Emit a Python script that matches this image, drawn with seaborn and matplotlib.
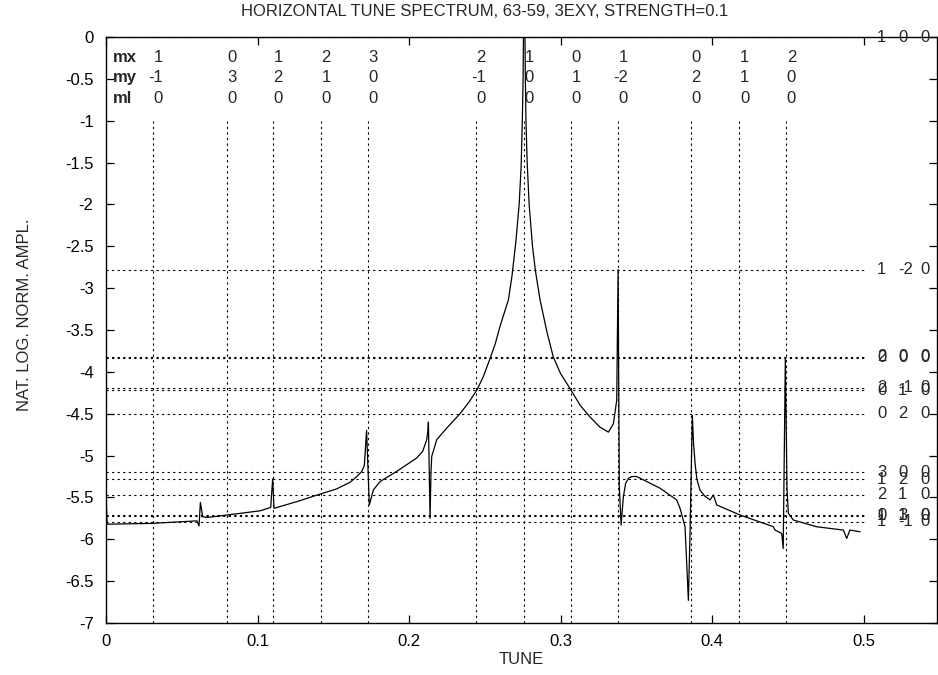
import matplotlib
matplotlib.use("Agg")
import matplotlib.pyplot as plt
import seaborn as sns
import pandas as pd
from matplotlib.ticker import MultipleLocator, FuncFormatter

# spectrum curve
tune = [0.0, 0.0007, 0.030, 0.060, 0.0614, 0.0623, 0.0638, 0.0664, 0.080, 0.1016,
        0.1087, 0.110, 0.1109, 0.126, 0.1413, 0.152, 0.161, 0.165, 0.1688, 0.1705,
        0.172, 0.1738, 0.1765, 0.1809, 0.1918, 0.205, 0.209, 0.2117, 0.2125, 0.2128,
        0.2139, 0.2145, 0.215, 0.2183, 0.225, 0.2337, 0.240, 0.2447, 0.249, 0.2535,
        0.257, 0.260, 0.2656, 0.268, 0.2705, 0.2727, 0.274, 0.2748, 0.2753, 0.2756,
        0.2765, 0.2768, 0.2772, 0.278, 0.2793, 0.2815, 0.2835, 0.2865, 0.291, 0.2952,
        0.300, 0.3063, 0.313, 0.3195, 0.326, 0.3316, 0.3349, 0.3371, 0.3380, 0.3388,
        0.340, 0.3415, 0.343, 0.345, 0.347, 0.350, 0.3525, 0.3657, 0.3767, 0.3789,
        0.3822, 0.3844, 0.3855, 0.387, 0.3878, 0.3888, 0.390, 0.392, 0.395, 0.3987,
        0.4009, 0.4031, 0.4185, 0.4405, 0.4416, 0.446, 0.447, 0.4484, 0.4495, 0.4504,
        0.4537, 0.469, 0.4867, 0.4889, 0.491, 0.4977]
ampl = [-5.45, -5.82, -5.81, -5.78, -5.84, -5.56, -5.73, -5.74, -5.71, -5.66,
        -5.62, -5.28, -5.63, -5.55, -5.46, -5.40, -5.32, -5.26, -5.19, -5.12,
        -4.70, -5.59, -5.41, -5.31, -5.19, -5.03, -4.95, -4.81, -4.70, -4.60,
        -5.75, -5.20, -5.01, -4.81, -4.67, -4.50, -4.35, -4.22, -4.06, -3.84,
        -3.66, -3.46, -3.14, -2.85, -2.45, -2.00, -1.55, -1.00, -0.50, 0.10,
        0.10, -0.50, -1.00, -1.50, -2.00, -2.50, -2.80, -3.14, -3.52, -3.82,
        -4.02, -4.20, -4.40, -4.54, -4.66, -4.72, -4.62, -4.34, -2.78, -5.37,
        -5.83, -5.49, -5.33, -5.27, -5.25, -5.25, -5.27, -5.39, -5.53, -5.63,
        -5.85, -6.73, -5.93, -4.52, -4.85, -5.09, -5.28, -5.41, -5.48, -5.53,
        -5.47, -5.59, -5.71, -5.85, -5.89, -5.93, -6.11, -3.83, -5.40, -5.69,
        -5.77, -5.85, -5.89, -5.99, -5.89, -5.91]

# resonance lines (vertical) with their indices
res_tune = [0.031, 0.080, 0.110, 0.142, 0.173, 0.244, 0.276, 0.307, 0.338, 0.386, 0.418, 0.449]
res_mx = [1, 0, 1, 2, 3, 2, 1, 0, 1, 0, 1, 2]
res_my = [-1, 3, 2, 1, 0, -1, 0, 1, -2, 2, 1, 0]
res_ml = [0, 0, 0, 0, 0, 0, 0, 0, 0, 0, 0, 0]

# amplitude levels (horizontal) with their labels
lvl_value = [0.0, -2.78, -3.82, -3.83, -4.19, -4.22, -4.50, -5.20, -5.28, -5.47, -5.71, -5.72, -5.79]
lvl_mx = ["1", "1", "2", "0", "2", "0", "0", "3", "1", "2", "0", "1", "1"]
lvl_my = ["0", "-2", "0", "0", "-1", "1", "2", "0", "2", "1", "3", "1", "-1"]
lvl_ml = ["0", "0", "0", "0", "0", "0", "0", "0", "0", "0", "0", "0", "0"]

sns.set_style("ticks")
plt.rcParams["font.family"] = ["Liberation Sans", "DejaVu Sans"]
plt.rcParams["axes.unicode_minus"] = False
FS = 12

fig = plt.figure(figsize=(9.38, 6.75), dpi=100)
ax = fig.add_axes([106 / 938, 52 / 675, 831 / 938, 586 / 675])

dots = (0, (2, 3))
for x in res_tune:
    ax.plot([x, x], [-7, -1], color="black", lw=0.8, linestyle=dots, zorder=1)
for y in lvl_value:
    ax.plot([0, 0.5], [y, y], color="black", lw=0.8, linestyle=dots, zorder=1)

df = pd.DataFrame({"tune": tune, "ampl": ampl})
sns.lineplot(data=df, x="tune", y="ampl", color="black", lw=0.9,
             estimator=None, sort=False, ax=ax, zorder=3)

# index table on top
for lab, yy in zip(["mx", "my", "ml"], [-0.25, -0.48, -0.73]):
    ax.text(0.0046, yy, lab, fontsize=FS, fontweight="bold", ha="left", va="center")
for x, a, b, c in zip(res_tune, res_mx, res_my, res_ml):
    for v, yy in zip([a, b, c], [-0.25, -0.48, -0.73]):
        ax.text(x + 0.0065, yy, str(v), fontsize=FS, ha="right", va="center")

# labels for the horizontal levels
for y, a, b, c in zip(lvl_value, lvl_mx, lvl_my, lvl_ml):
    for v, xx in zip([a, b, c], [0.5089, 0.5228, 0.5373]):
        ax.text(xx, y, v, fontsize=FS, ha="left", va="center", clip_on=False)

ax.set_xlim(0, 0.5485)
ax.set_ylim(-7, 0)
ax.xaxis.set_major_locator(MultipleLocator(0.1))
ax.yaxis.set_major_locator(MultipleLocator(0.5))
ax.xaxis.set_major_formatter(FuncFormatter(lambda v, p: f"{v:g}"))
ax.yaxis.set_major_formatter(FuncFormatter(lambda v, p: f"{v:g}"))
ax.tick_params(direction="in", length=6, width=0.9, top=True, right=True,
               labelsize=FS, colors="black", pad=8)
ax.tick_params(axis="y", pad=9)
for s in ax.spines.values():
    s.set_color("black")
    s.set_linewidth(1.0)
ax.set_xlabel("")
ax.set_ylabel("")

fig.text(485 / 938, 1 - 12 / 675, "HORIZONTAL TUNE SPECTRUM, 63-59, 3EXY, STRENGTH=0.1",
         fontsize=FS, ha="center", va="center")
fig.text(521 / 938, 1 - 659 / 675, "TUNE", fontsize=FS, ha="center", va="center")
fig.text(25 / 938, 1 - 315 / 675, "NAT. LOG. NORM. AMPL.", fontsize=FS,
         rotation=90, ha="center", va="center")

fig.savefig("out.png", dpi=100)
